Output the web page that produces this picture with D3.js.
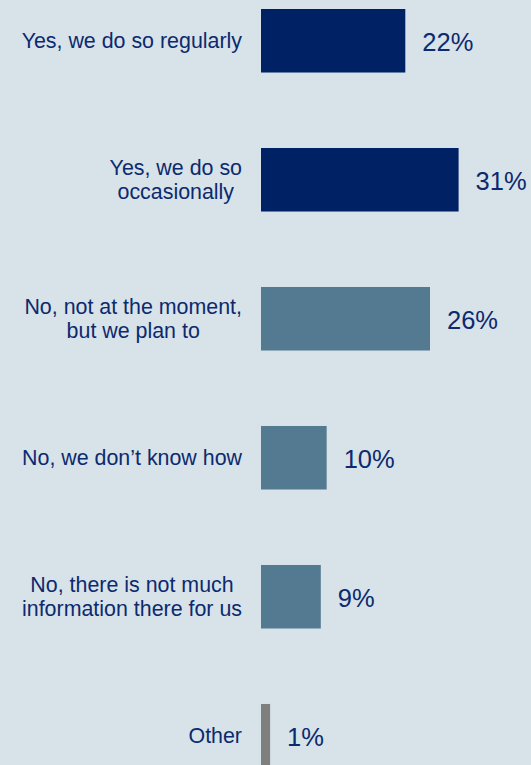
<!DOCTYPE html>
<html><head><meta charset="utf-8">
<script src="https://cdn.jsdelivr.net/npm/d3@7"></script>
<style>
html,body{margin:0;padding:0;background:#d8e2e9;overflow:hidden;}
svg{display:block;}
text{font-family:"Liberation Sans",Arial,sans-serif;fill:#0c2a6e;}
</style></head><body>
<svg id="c" width="531" height="765"></svg>
<script>
const categories = [
  ["Yes, we do so regularly"],
  ["Yes, we do so", "occasionally"],
  ["No, not at the moment,", "but we plan to"],
  ["No, we don\u2019t know how"],
  ["No, there is not much", "information there for us"],
  ["Other"]
];
const values = [22.2, 30.4, 26, 10.1, 9.2, 1.4];
const valueLabels = ["22%", "31%", "26%", "10%", "9%", "1%"];
const groups = ["yes", "yes", "no", "no", "no", "other"];

const colors = {yes: "#002264", no: "#537a91", other: "#7f7f7f"};

const svg = d3.select("#c");
const x = d3.scaleLinear().domain([0, 10]).range([261, 326]);
const y = d3.scaleBand().domain(d3.range(categories.length)).range([9, 767.5]).paddingInner(0.543).paddingOuter(0).align(0);

const g = svg.selectAll("g.row").data(values).join("g").attr("class", "row");

g.append("rect")
  .attr("x", x(0))
  .attr("y", (d, i) => y(i))
  .attr("width", d => x(d) - x(0))
  .attr("height", y.bandwidth())
  .attr("fill", (d, i) => colors[groups[i]]);

g.append("text")
  .attr("x", d => x(d) + 17)
  .attr("y", (d, i) => y(i) + y.bandwidth() / 2 + 1.5)
  .attr("dy", "0.35em")
  .style("font-size", "25.5px")
  .text((d, i) => valueLabels[i]);

const labelRight = 242;
const fs = 21.4, lh = 24;
categories.forEach((lines, i) => {
  const cy = y(i) + y.bandwidth() / 2;
  const t = svg.append("text").style("font-size", fs + "px").attr("text-anchor", "middle");
  const spans = lines.map((ln, k) => t.append("tspan").text(ln));
  const w = d3.max(spans, s => s.node().getComputedTextLength());
  const cx = labelRight - w / 2;
  spans.forEach((s, k) => {
    s.attr("x", cx).attr("y", cy + (k - (lines.length - 1) / 2) * lh).attr("dy", "0.35em");
  });
});
</script>
</body></html>
